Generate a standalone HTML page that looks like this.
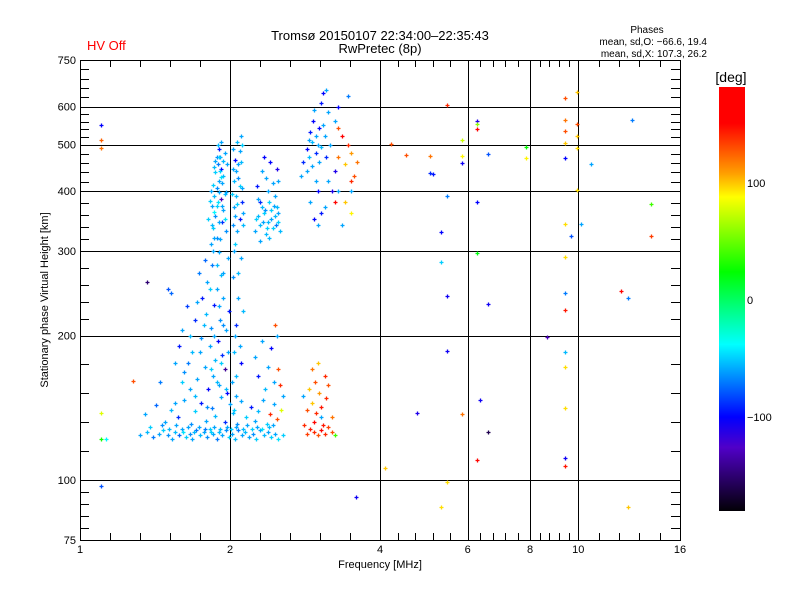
<!DOCTYPE html>
<html><head><meta charset="utf-8">
<style>
html,body{margin:0;padding:0;background:#fff;}
svg{display:block;font-family:"Liberation Sans",sans-serif;}
</style></head>
<body>
<svg id="chart" width="800" height="600" viewBox="0 0 800 600">
<rect width="800" height="600" fill="#fff"/>
<text x="380" y="40" font-size="13" text-anchor="middle">Tromsø 20150107 22:34:00–22:35:43</text>
<text x="380" y="53" font-size="13" text-anchor="middle">RwPretec (8p)</text>
<text x="87" y="50" font-size="13" fill="#ff0000">HV Off</text>
<text x="647" y="33" font-size="10" text-anchor="middle">Phases</text>
<text x="707" y="45" font-size="10" text-anchor="end">mean, sd,O: −66.6, 19.4</text>
<text x="707" y="57" font-size="10" text-anchor="end">mean, sd,X: 107.3, 26.2</text>
<text x="380" y="568" font-size="11" text-anchor="middle">Frequency [MHz]</text>
<text x="0" y="0" font-size="11" text-anchor="middle" transform="translate(48,300) rotate(-90)">Stationary phase Virtual Height [km]</text>
<g id="grid"></g>
<g id="marks"></g>
<g id="axes"></g>
<g id="cbar"></g>
<text x="731" y="82" font-size="14" text-anchor="middle">[deg]</text>
</svg>
<script>
const xTicks = [1, 2, 4, 6, 8, 10, 16];
const yTicks = [75, 100, 200, 300, 400, 500, 600, 750];
const xGrid = [2, 4, 6, 8, 10];
const yGrid = [100, 200, 300, 400, 500, 600];
const cbarTicks = [100, 0, -100];
const scattered = [
[4.21,502,130],[5.45,604,140],[6.26,561,-110],[6.26,552,60],[6.26,539,170],[5.84,511,75],
[4.51,476,130],[5.04,474,120],[5.84,474,90],[6.59,478,-80],[7.85,494,25],[7.85,469,90],
[5.84,458,-105],[5.04,436,-90],[5.11,434,-95],[5.45,391,-70],[6.26,379,-100],[14.0,376,40],
[9.41,341,95],[10.12,341,-60],[9.67,322,-80],[14.0,322,135],[6.26,297,20],[5.30,285,-50],
[5.30,329,-100],[9.41,291,95],[9.41,245,-70],[12.18,248,150],[12.58,240,-70],[5.45,242,-105],
[6.59,233,-105],[9.41,226,145],[8.65,199,-130],[5.45,186,-105],[9.41,185,-55],[9.41,172,95],
[6.35,147,-105],[4.75,138,-110],[5.84,137,120],[6.59,126,-160],[9.41,141,95],[6.26,110,150],
[9.41,111,-105],[9.41,107,145],[4.09,106,100],[5.45,99,95],[5.30,88,95],[12.58,88,100],
[3.58,92,-105],[9.41,625,130],[9.94,643,100],[9.41,562,120],[9.94,552,130],[9.41,533,130],
[9.94,521,100],[9.41,504,100],[9.94,492,95],[9.41,469,-100],[10.6,456,-60],[12.82,562,-70],
[9.94,402,95],[1.10,550,-100],[1.10,511,125],[1.10,492,120],[1.10,138,80],[1.10,122,30],
[1.13,122,-40],[1.10,97,-80],[1.36,259,-150],[1.28,161,130]
];
const lowBand = [
[1.32,124,-60],[1.36,126,-55],[1.4,123,-70],[1.44,125,-60],[1.47,127,-50],[1.5,124,-65],[1.53,122,-60],[1.55,126,-55],[1.58,124,-75],[1.6,128,-60],[1.63,123,-50],[1.66,125,-65],[1.68,122,-60],[1.71,127,-70],[1.74,124,-55],[1.77,126,-60],[1.8,123,-65],[1.82,128,-50],[1.85,125,-60],[1.88,122,-70],[1.9,126,-55],[1.93,124,-60],[1.96,127,-65],[1.99,123,-50],[2.02,125,-60],[2.05,122,-55],[2.08,127,-70],[2.11,124,-60],[2.14,126,-55],[2.18,123,-60],[2.22,125,-65],[2.26,122,-50],[2.3,127,-60],[2.34,124,-55],[2.38,126,-60],[2.42,123,-50],[2.46,125,-60],[2.5,122,-45],[2.55,124,-50],
[1.35,137,-60],[1.42,143,-75],[1.48,132,-60],[1.52,140,-55],[1.57,135,-90],[1.62,147,-60],[1.67,131,-65],[1.7,139,-50],[1.75,145,-95],[1.79,133,-60],[1.84,141,-70],[1.87,136,-55],[1.92,149,-60],[1.95,132,-90],[2.0,144,-60],[2.03,138,-55],[2.07,131,-65],[2.1,146,-60],[2.15,135,-50],[2.2,142,-95],[2.24,133,-60],[2.28,139,-55],[2.33,147,-60],[2.37,131,-50],[2.41,137,140],[2.45,144,-60],[2.49,134,130],[2.53,140,80],
[1.38,129,-50],[1.46,130,-65],[1.51,128,-55],[1.56,130,-60],[1.61,126,-45],[1.65,129,-60],[1.69,126,-55],[1.73,129,-60],[1.78,128,-70],[1.83,126,-50],[1.86,129,-60],[1.91,128,-55],[1.97,129,-60],[2.01,128,-50],[2.06,129,-60],[2.12,128,-55],[2.16,130,-60],[2.21,128,-50],[2.27,129,-60],[2.32,128,-45],[2.4,129,-55],[2.44,130,-60]
];
const clusterA = [
[1.45,160,-70],[1.5,250,-80],[1.52,245,-75],[1.55,175,-60],[1.58,190,-95],[1.6,205,-60],[1.62,168,-65],[1.64,230,-85],[1.66,155,-60],[1.68,185,-55],[1.7,215,-90],[1.72,162,-60],[1.73,270,-70],[1.75,198,-65],[1.76,240,-95],[1.78,172,-60],[1.79,222,-55],[1.8,258,-60],[1.81,155,-100],[1.82,190,-60],[1.83,207,-65],[1.84,280,-70],[1.85,165,-60],[1.86,232,-95],[1.87,178,-55],[1.88,250,-60],[1.89,195,-100],[1.9,158,-60],[1.91,215,-65],[1.92,268,-55],[1.93,182,-90],[1.94,240,-60],[1.95,170,-140],[1.96,205,-60],[1.97,152,-100],[1.98,290,-60],[1.99,225,-95],[1.85,300,-60],[1.78,288,-75],[1.88,320,-65],
[1.83,310,-60],[1.85,335,-50],[1.87,355,-65],[1.84,372,-60],[1.86,390,-55],[1.88,405,-65],[1.9,420,-60],[1.87,438,-50],[1.89,455,-70],[1.91,470,-60],[1.9,490,-95],[1.92,505,-60],[1.93,345,-90],[1.94,365,-60],[1.95,395,-55],[1.93,415,-60],[1.92,445,-100],[1.95,480,-60],[1.96,330,-65],[1.91,318,-60],[1.89,380,-45],[1.86,362,-40],[1.9,345,-60],[1.94,430,-55],[1.88,470,-65],[1.83,400,-60],[1.81,350,-50],[1.92,385,-130],[1.97,455,-60],[1.9,298,-60],
[1.85,412,-50],[1.87,462,-60],[1.89,498,-55],[1.91,440,-50],[1.93,372,-60],[1.95,350,-45],[1.84,340,-55],[1.86,320,-60],[1.88,372,-50],[1.9,398,-60],[1.92,428,-45],[1.94,462,-55],[1.96,398,-60],[1.82,382,-50],[1.9,470,-50],[1.86,448,-55],
[1.55,145,-60],[1.6,160,-50],[1.65,175,-70],[1.7,150,-55],[1.74,185,-60],[1.77,210,-55],[1.8,142,-65],[1.83,170,-50],[1.86,200,-60],[1.88,160,-55],[1.9,230,-60],[1.92,175,-50],[1.94,210,-65],[1.96,155,-55],[1.98,185,-60],[1.72,235,-60],[1.82,250,-50],[1.88,280,-55],[1.94,270,-60],[1.66,200,-55]
];
const clusterB = [
[2.02,160,-60],[2.04,185,-55],[2.06,210,-90],[2.08,240,-60],[2.03,265,-65],[2.1,290,-60],[2.05,310,-50],[2.07,330,-60],[2.09,350,-95],[2.04,370,-60],[2.06,390,-55],[2.11,405,-60],[2.08,425,-65],[2.03,445,-60],[2.05,465,-100],[2.09,485,-60],[2.07,505,-55],[2.1,520,-60],[2.12,360,-60],[2.03,340,-65],[2.06,150,-60],[2.1,175,-100],[2.05,200,-60],[2.12,225,-55],[2.04,300,-60],[2.08,455,-60],[2.11,380,-90],
[2.02,395,-50],[2.04,420,-55],[2.06,440,-60],[2.09,410,-50],[2.1,460,-55],[2.05,355,-60],[2.07,375,-50],[2.12,340,-55],[2.03,490,-60],[2.11,500,-50],[2.06,165,-55],[2.09,190,-60],[2.04,140,-50],[2.08,270,-55]
];
const clusterC = [
[2.25,330,-60],[2.28,355,-55],[2.3,380,-90],[2.33,345,-60],[2.35,365,-65],[2.38,400,-60],[2.4,320,-55],[2.42,350,-60],[2.45,372,-60],[2.47,340,-70],[2.5,360,-60],[2.52,330,-55],[2.27,410,-95],[2.32,440,-60],[2.36,425,-60],[2.41,460,-100],[2.44,415,-60],[2.48,445,-110],[2.3,315,-60],[2.37,335,-50],[2.46,390,-60],[2.5,420,-60],[2.34,470,-100],[2.28,385,-60],
[2.26,350,-50],[2.3,340,-55],[2.34,360,-50],[2.38,345,-55],[2.42,365,-50],[2.46,355,-55],[2.5,345,-50],[2.32,370,-55],[2.4,380,-50],[2.48,370,-55],[2.36,325,-55],[2.44,335,-50],
[2.25,180,-60],[2.28,165,-95],[2.32,195,-60],[2.35,155,-55],[2.38,172,-60],[2.42,188,-100],[2.45,160,-60],[2.48,200,-60],[2.5,170,130],[2.52,158,140],[2.55,150,-60],[2.46,210,130]
];
const clusterD = [
[2.78,430,-60],[2.8,460,-90],[2.85,490,-100],[2.88,510,-60],[2.9,530,-95],[2.93,560,-100],[2.95,590,-60],[2.97,480,-90],[3.0,500,-60],[3.02,540,-100],[3.05,610,-95],[3.08,640,-100],[3.1,520,-60],[3.12,470,-90],[3.15,585,-60],[2.92,450,-60],[2.97,420,-60],[3.0,400,-100],[2.9,380,-60],[3.05,360,-95],[3.0,340,-60],[2.95,350,-100],[3.1,370,-60],[3.15,420,-60],[3.2,400,-110],[3.18,500,-60],[2.85,440,-60],[3.12,650,-60],
[2.92,505,-55],[2.98,520,-60],[3.04,495,-55],[3.08,550,-60],[2.88,470,-55],[3.02,460,-60],
[3.25,560,-60],[3.3,540,130],[3.35,520,170],[3.3,470,120],[3.45,500,140],[3.5,480,110],[3.4,455,100],[3.25,440,-110],[3.55,430,130],[3.3,400,-60],[3.4,380,100],[3.5,360,90],[3.35,340,-60],[3.5,420,140],[3.6,460,120],[3.25,380,150],[3.45,630,-70],[3.3,600,-100],[3.5,400,-60]
];
const clusterE = [
[2.82,130,140],[2.86,125,135],[2.9,128,145],[2.95,126,140],[3.0,124,130],[3.05,127,150],[3.1,125,140],[3.15,129,135],[3.2,126,130],[3.25,124,40],[2.85,140,130],[2.92,145,100],[2.98,138,140],[3.05,142,145],[3.12,148,140],[3.2,135,120],[2.88,155,100],[2.96,160,130],[3.02,152,110],[3.1,165,140],[2.92,170,120],[3.0,175,100],[3.05,135,-60],[2.8,150,-60],[3.15,158,130],[2.95,132,150],[3.08,130,145]
];

const NS = 'http://www.w3.org/2000/svg';
const X0 = 80, X1 = 680, Y0 = 60, Y1 = 540;
const xS = f => X0 + (Math.log2(f) - Math.log2(1)) / (Math.log2(16) - Math.log2(1)) * (X1 - X0);
const yS = h => Y1 - (Math.log10(h) - Math.log10(75)) / (Math.log10(750) - Math.log10(75)) * (Y1 - Y0);
const CB_TOP = 87, CB_BOT = 511;
const cS = v => 300 - v * 1.17;
const stops = [[182,[255,0,0]],[151,[255,0,0]],[108,[255,160,0]],[88,[255,255,0]],[24,[0,255,0]],[-38,[0,255,255]],[-100,[0,0,255]],[-126,[80,0,200]],[-182,[0,0,0]]];
function color(v){
  if (v >= stops[0][0]) return 'rgb(255,0,0)';
  for (let i=0;i<stops.length-1;i++){
    const [a,ca]=stops[i],[b,cb]=stops[i+1];
    if (v<=a && v>=b){const t=(a-v)/(a-b);
      return 'rgb('+ca.map((c,k)=>Math.round(c+(cb[k]-c)*t)).join(',')+')';}
  }
  return 'rgb(0,0,0)';
}
function mk(tag, attrs, parent){const e=document.createElementNS(NS,tag);for(const k in attrs)e.setAttribute(k,attrs[k]);parent.appendChild(e);return e;}

const grid = document.getElementById('grid');
xGrid.forEach(f=>{const x=Math.round(xS(f))+0.5;
  const l=mk('line',{x1:x,y1:Y0,x2:x,y2:Y1,stroke:'#000','stroke-width':1},grid);
  
  });
yGrid.forEach(h=>{const y=Math.round(yS(h))+0.5;
  const l=mk('line',{x1:X0,y1:y,x2:X1,y2:y,stroke:'#000','stroke-width':1},grid);
  
  });

const marks = document.getElementById('marks');
[scattered,lowBand,clusterA,clusterB,clusterC,clusterD,clusterE].forEach(arr=>{
  arr.forEach(p=>{
    const x=Math.round(xS(p[0])), y=Math.round(yS(p[1])), c=color(p[2]);
    const g=mk('path',{d:`M${x-1.5} ${y+0.5}H${x+2.5}M${x+0.5} ${y-1.5}V${y+2.5}`,stroke:c,'stroke-width':1.3,fill:'none'},marks);
    
    
  });
});

const axes = document.getElementById('axes');
mk('rect',{x:X0+0.5,y:Y0+0.5,width:X1-X0,height:Y1-Y0,fill:'none',stroke:'#000','stroke-width':1},axes);
for(let i=0;i<xTicks.length-1;i++){
  const a=xS(xTicks[i]), b=xS(xTicks[i+1]);
  for(let k=0;k<=5;k++){const x=Math.round(a+(b-a)*k/5)+0.5; const len=(k===0||k===5)?10:7;
    mk('line',{x1:x,y1:Y0,x2:x,y2:Y0+len,stroke:'#000'},axes);
    mk('line',{x1:x,y1:Y1,x2:x,y2:Y1-len,stroke:'#000'},axes);}
}
for(let i=0;i<yTicks.length-1;i++){
  const a=yS(yTicks[i]), b=yS(yTicks[i+1]);
  for(let k=0;k<=5;k++){const y=Math.round(a+(b-a)*k/5)+0.5; const len=(k===0||k===5)?12:9;
    mk('line',{x1:X0,y1:y,x2:X0+len,y2:y,stroke:'#000'},axes);
    mk('line',{x1:X1,y1:y,x2:X1-len,y2:y,stroke:'#000'},axes);}
}
xTicks.forEach(f=>{const t=mk('text',{x:xS(f),y:553,'font-size':11,'text-anchor':'middle'},axes);t.textContent=f;
  
  });
yTicks.forEach(h=>{const t=mk('text',{x:76,y:yS(h)+4,'font-size':11,'text-anchor':'end'},axes);t.textContent=h;
  
  });

const cbar = document.getElementById('cbar');
for(let y=CB_TOP;y<CB_BOT;y++){
  const v=(300-(y+0.5))/1.17;
  mk('rect',{x:719,y:y,width:26,height:1,fill:color(v)},cbar);
}
cbarTicks.forEach(v=>{const t=mk('text',{x:747,y:cS(v)+4,'font-size':11},cbar);t.textContent=v<0?'−'+(-v):v;
  
  });
</script>
</body></html>
